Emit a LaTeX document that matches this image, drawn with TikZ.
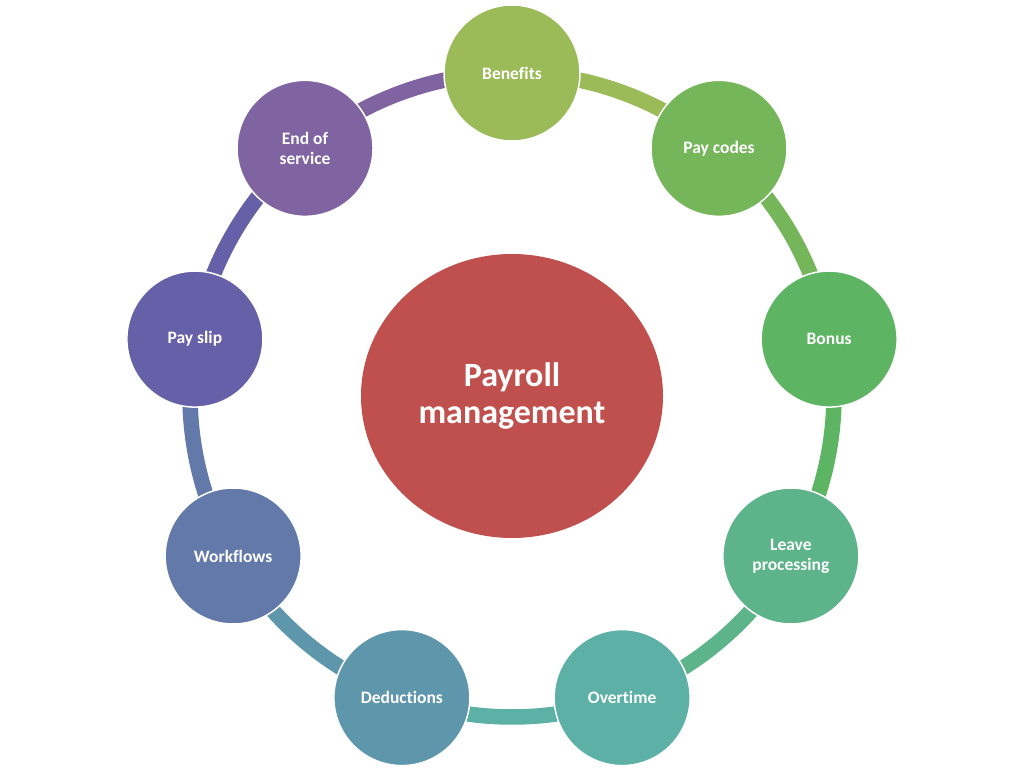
\documentclass[tikz,border=0pt]{standalone}
\usepackage{fontspec}
\setmainfont[Ligatures=NoCommon]{Carlito}
\usetikzlibrary{shapes.geometric,backgrounds}
\definecolor{cBen}{HTML}{9BBB59}
\definecolor{cPay}{HTML}{76B65A}
\definecolor{cBon}{HTML}{5DB463}
\definecolor{cLea}{HTML}{5DB38A}
\definecolor{cOve}{HTML}{5CB0A6}
\definecolor{cDed}{HTML}{5E96AC}
\definecolor{cWor}{HTML}{6279A9}
\definecolor{cSli}{HTML}{6660A8}
\definecolor{cEnd}{HTML}{8064A2}
\definecolor{cCen}{HTML}{C0504D}
\tikzset{
  item/.style={circle, minimum size=136pt, inner sep=0pt, draw=white, line width=1.5pt,
    text=white, font=\bfseries\fontsize{17.5}{20}\selectfont, align=center},
  ring/.style={line width=15.5pt},
  hub/.style={ellipse, minimum width=302pt, minimum height=284pt, inner sep=0pt,
    fill=cCen, text=white, font=\bfseries\fontsize{34}{37}\selectfont, align=center}
}
\begin{document}
\begin{tikzpicture}[x=1pt,y=1pt]
\useasboundingbox (0,0) rectangle (1024,771);
\coordinate (c) at (512,376);
\node[hub] (hub) at (512,375) {Payroll\\management};
\node[item, fill=cBen] (n0) at ([shift={(90:322)}]c) {Benefits};
\node[item, fill=cPay] (n1) at ([shift={(50:322)}]c) {Pay codes};
\node[item, fill=cBon] (n2) at ([shift={(10:322)}]c) {Bonus};
\node[item, fill=cLea] (n3) at ([shift={(-30:322)}]c) {Leave\\processing};
\node[item, fill=cOve] (n4) at ([shift={(-70:322)}]c) {Overtime};
\node[item, fill=cDed] (n5) at ([shift={(-110:322)}]c) {Deductions};
\node[item, fill=cWor] (n6) at ([shift={(-150:322)}]c) {Workflows};
\node[item, fill=cSli] (n7) at ([shift={(170:322)}]c) {Pay slip};
\node[item, fill=cEnd] (n8) at ([shift={(130:322)}]c) {End of\\service};
\begin{pgfonlayer}{background}
\draw[ring, cBen] (n0.center) arc[start angle=90, end angle=50, radius=322];
\draw[ring, cPay] (n1.center) arc[start angle=50, end angle=10, radius=322];
\draw[ring, cBon] (n2.center) arc[start angle=10, end angle=-30, radius=322];
\draw[ring, cLea] (n3.center) arc[start angle=-30, end angle=-70, radius=322];
\draw[ring, cOve] (n4.center) arc[start angle=-70, end angle=-110, radius=322];
\draw[ring, cDed] (n5.center) arc[start angle=-110, end angle=-150, radius=322];
\draw[ring, cWor] (n6.center) arc[start angle=-150, end angle=-190, radius=322];
\draw[ring, cSli] (n7.center) arc[start angle=170, end angle=130, radius=322];
\draw[ring, cEnd] (n8.center) arc[start angle=130, end angle=90, radius=322];
\end{pgfonlayer}
\end{tikzpicture}
\end{document}
